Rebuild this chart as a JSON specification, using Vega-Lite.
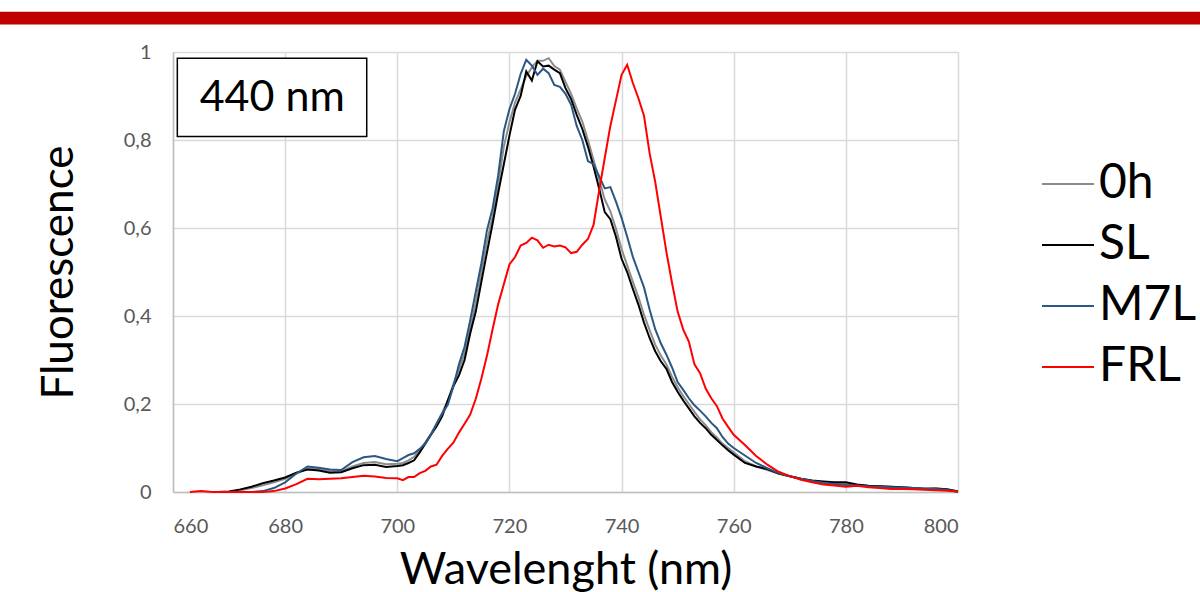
{
  "$schema": "https://vega.github.io/schema/vega-lite/v6.json",
  "width": 785,
  "height": 440,
  "autosize": "none",
  "padding": {"left": 173, "top": 52, "right": 242, "bottom": 100},
  "background": "white",
  "config": {
    "font": "Lato",
    "view": {"stroke": null},
    "axis": {
      "gridColor": "#d9d9d9", "gridWidth": 1.5,
      "domainColor": "#bfbfbf", "domainWidth": 1.5,
      "ticks": false,
      "labelColor": "#595959", "labelFontSize": 20, "labelFont": "Lato",
      "titleFont": "Lato", "titleColor": "#000000", "titleFontWeight": "normal"
    },
    "axisX": {"labelPadding": 24, "titleY": 91, "titleBaseline": "alphabetic", "tickCount": 7, "titleFontSize": 45},
    "axisY": {"labelPadding": 22, "titleX": -101, "titleBaseline": "alphabetic", "tickCount": 5, "titleFontSize": 44,
      "labelExpr": "replace(format(datum.value, '~g'), '.', ',')"},
    "legend": {
      "orient": "none", "legendX": 868, "legendY": 105,
      "symbolType": "stroke", "symbolSize": 2704, "symbolStrokeWidth": 2,
      "labelFontSize": 48, "labelFont": "Lato", "labelColor": "#000000",
      "rowPadding": 10, "padding": 0, "labelOffset": 4
    }
  },
  "datasets": {
    "spec": [
      {"w":663,"0h":null,"SL":null,"M7L":null,"FRL":0},
      {"w":665,"0h":null,"SL":null,"M7L":null,"FRL":0.002},
      {"w":667,"0h":null,"SL":null,"M7L":null,"FRL":0},
      {"w":668,"0h":null,"SL":0,"M7L":null,"FRL":0},
      {"w":670,"0h":0,"SL":0.001,"M7L":null,"FRL":0},
      {"w":672,"0h":0.004,"SL":0.006,"M7L":null,"FRL":0},
      {"w":674,"0h":0.009,"SL":0.012,"M7L":0,"FRL":0},
      {"w":676,"0h":0.015,"SL":0.02,"M7L":0.002,"FRL":0},
      {"w":678,"0h":0.022,"SL":0.026,"M7L":0.009,"FRL":0.002},
      {"w":680,"0h":0.03,"SL":0.033,"M7L":0.022,"FRL":0.008},
      {"w":682,"0h":0.042,"SL":0.044,"M7L":0.042,"FRL":0.018},
      {"w":684,"0h":0.053,"SL":0.051,"M7L":0.058,"FRL":0.03},
      {"w":686,"0h":0.052,"SL":0.049,"M7L":0.055,"FRL":0.029},
      {"w":688,"0h":0.048,"SL":0.044,"M7L":0.051,"FRL":0.03},
      {"w":690,"0h":0.047,"SL":0.045,"M7L":0.05,"FRL":0.031},
      {"w":692,"0h":0.058,"SL":0.054,"M7L":0.068,"FRL":0.034},
      {"w":694,"0h":0.066,"SL":0.061,"M7L":0.079,"FRL":0.037},
      {"w":696,"0h":0.068,"SL":0.062,"M7L":0.082,"FRL":0.035},
      {"w":698,"0h":0.063,"SL":0.057,"M7L":0.075,"FRL":0.032},
      {"w":700,"0h":0.064,"SL":0.059,"M7L":0.07,"FRL":0.031},
      {"w":701,"0h":0.066,"SL":0.061,"M7L":0.077,"FRL":0.027},
      {"w":702,"0h":0.072,"SL":0.066,"M7L":0.084,"FRL":0.034},
      {"w":703,"0h":0.08,"SL":0.072,"M7L":0.088,"FRL":0.034},
      {"w":704,"0h":0.095,"SL":0.09,"M7L":0.098,"FRL":0.043},
      {"w":705,"0h":0.113,"SL":0.11,"M7L":0.11,"FRL":0.048},
      {"w":706,"0h":0.132,"SL":0.13,"M7L":0.13,"FRL":0.058},
      {"w":707,"0h":0.155,"SL":0.149,"M7L":0.155,"FRL":0.062},
      {"w":708,"0h":0.18,"SL":0.172,"M7L":0.178,"FRL":0.082},
      {"w":709,"0h":0.208,"SL":0.208,"M7L":0.198,"FRL":0.098},
      {"w":710,"0h":0.245,"SL":0.24,"M7L":0.24,"FRL":0.112},
      {"w":711,"0h":0.278,"SL":0.265,"M7L":0.29,"FRL":0.135},
      {"w":712,"0h":0.315,"SL":0.3,"M7L":0.33,"FRL":0.155},
      {"w":713,"0h":0.372,"SL":0.36,"M7L":0.39,"FRL":0.176},
      {"w":714,"0h":0.43,"SL":0.41,"M7L":0.455,"FRL":0.212},
      {"w":715,"0h":0.5,"SL":0.478,"M7L":0.52,"FRL":0.258},
      {"w":716,"0h":0.57,"SL":0.545,"M7L":0.595,"FRL":0.31},
      {"w":717,"0h":0.625,"SL":0.61,"M7L":0.645,"FRL":0.37},
      {"w":718,"0h":0.7,"SL":0.68,"M7L":0.72,"FRL":0.427},
      {"w":719,"0h":0.785,"SL":0.745,"M7L":0.82,"FRL":0.472},
      {"w":720,"0h":0.84,"SL":0.81,"M7L":0.87,"FRL":0.517},
      {"w":721,"0h":0.885,"SL":0.869,"M7L":0.905,"FRL":0.534},
      {"w":722,"0h":0.915,"SL":0.9,"M7L":0.95,"FRL":0.56},
      {"w":723,"0h":0.945,"SL":0.956,"M7L":0.982,"FRL":0.566},
      {"w":724,"0h":0.965,"SL":0.935,"M7L":0.969,"FRL":0.578},
      {"w":725,"0h":0.98,"SL":0.979,"M7L":0.948,"FRL":0.572},
      {"w":726,"0h":0.98,"SL":0.967,"M7L":0.962,"FRL":0.555},
      {"w":727,"0h":0.986,"SL":0.969,"M7L":0.952,"FRL":0.562},
      {"w":728,"0h":0.968,"SL":0.96,"M7L":0.925,"FRL":0.558},
      {"w":729,"0h":0.96,"SL":0.952,"M7L":0.921,"FRL":0.56},
      {"w":730,"0h":0.932,"SL":0.918,"M7L":0.905,"FRL":0.556},
      {"w":731,"0h":0.905,"SL":0.893,"M7L":0.88,"FRL":0.543},
      {"w":732,"0h":0.872,"SL":0.857,"M7L":0.832,"FRL":0.546},
      {"w":733,"0h":0.842,"SL":0.825,"M7L":0.8,"FRL":0.562},
      {"w":734,"0h":0.8,"SL":0.785,"M7L":0.752,"FRL":0.575},
      {"w":735,"0h":0.755,"SL":0.74,"M7L":0.745,"FRL":0.607},
      {"w":736,"0h":0.71,"SL":0.69,"M7L":0.718,"FRL":0.685},
      {"w":737,"0h":0.665,"SL":0.636,"M7L":0.69,"FRL":0.759},
      {"w":738,"0h":0.638,"SL":0.62,"M7L":0.693,"FRL":0.832},
      {"w":739,"0h":0.598,"SL":0.58,"M7L":0.66,"FRL":0.89},
      {"w":740,"0h":0.552,"SL":0.53,"M7L":0.623,"FRL":0.948},
      {"w":741,"0h":0.515,"SL":0.5,"M7L":0.58,"FRL":0.971},
      {"w":742,"0h":0.478,"SL":0.462,"M7L":0.535,"FRL":0.93},
      {"w":743,"0h":0.443,"SL":0.426,"M7L":0.5,"FRL":0.895},
      {"w":744,"0h":0.403,"SL":0.385,"M7L":0.465,"FRL":0.855},
      {"w":745,"0h":0.368,"SL":0.35,"M7L":0.415,"FRL":0.77},
      {"w":746,"0h":0.335,"SL":0.32,"M7L":0.37,"FRL":0.705},
      {"w":747,"0h":0.31,"SL":0.297,"M7L":0.338,"FRL":0.625},
      {"w":748,"0h":0.29,"SL":0.28,"M7L":0.312,"FRL":0.545},
      {"w":749,"0h":0.262,"SL":0.25,"M7L":0.283,"FRL":0.475},
      {"w":750,"0h":0.238,"SL":0.228,"M7L":0.25,"FRL":0.41},
      {"w":751,"0h":0.218,"SL":0.208,"M7L":0.232,"FRL":0.369},
      {"w":752,"0h":0.2,"SL":0.19,"M7L":0.213,"FRL":0.342},
      {"w":753,"0h":0.182,"SL":0.172,"M7L":0.197,"FRL":0.29},
      {"w":754,"0h":0.165,"SL":0.157,"M7L":0.185,"FRL":0.27},
      {"w":755,"0h":0.152,"SL":0.145,"M7L":0.172,"FRL":0.235},
      {"w":756,"0h":0.136,"SL":0.13,"M7L":0.157,"FRL":0.213},
      {"w":757,"0h":0.124,"SL":0.118,"M7L":0.145,"FRL":0.195},
      {"w":758,"0h":0.11,"SL":0.106,"M7L":0.125,"FRL":0.167},
      {"w":759,"0h":0.1,"SL":0.095,"M7L":0.11,"FRL":0.148},
      {"w":760,"0h":0.09,"SL":0.085,"M7L":0.1,"FRL":0.13},
      {"w":762,"0h":0.07,"SL":0.066,"M7L":0.083,"FRL":0.107},
      {"w":764,"0h":0.058,"SL":0.058,"M7L":0.066,"FRL":0.082},
      {"w":766,"0h":0.05,"SL":0.052,"M7L":0.054,"FRL":0.062},
      {"w":768,"0h":0.042,"SL":0.042,"M7L":0.043,"FRL":0.046},
      {"w":770,"0h":0.036,"SL":0.036,"M7L":0.036,"FRL":0.036},
      {"w":772,"0h":0.03,"SL":0.03,"M7L":0.03,"FRL":0.028},
      {"w":774,"0h":0.025,"SL":0.026,"M7L":0.025,"FRL":0.022},
      {"w":776,"0h":0.022,"SL":0.024,"M7L":0.021,"FRL":0.017},
      {"w":778,"0h":0.02,"SL":0.022,"M7L":0.018,"FRL":0.015},
      {"w":780,"0h":0.018,"SL":0.022,"M7L":0.016,"FRL":0.012},
      {"w":782,"0h":0.016,"SL":0.017,"M7L":0.015,"FRL":0.014},
      {"w":784,"0h":0.014,"SL":0.014,"M7L":0.013,"FRL":0.011},
      {"w":786,"0h":0.013,"SL":0.013,"M7L":0.012,"FRL":0.009},
      {"w":788,"0h":0.012,"SL":0.012,"M7L":0.011,"FRL":0.007},
      {"w":790,"0h":0.01,"SL":0.011,"M7L":0.01,"FRL":0.007},
      {"w":792,"0h":0.009,"SL":0.009,"M7L":0.009,"FRL":0.006},
      {"w":794,"0h":0.008,"SL":0.007,"M7L":0.008,"FRL":0.005},
      {"w":796,"0h":0.008,"SL":0.008,"M7L":0.007,"FRL":0.004},
      {"w":798,"0h":0.006,"SL":0.006,"M7L":0.005,"FRL":0.003},
      {"w":800,"0h":0.002,"SL":0.001,"M7L":0.0,"FRL":0.001}
    ],
    "bar": [{"w": 629, "w2": 844, "f": 1.0627, "f2": 1.0916}],
    "box": [{"w": 660.77, "w2": 694.55, "f": 0.808, "f2": 0.986}],
    "boxlabel": [{"w": 677.7, "f": 0.895, "label": "440 nm"}]
  },
  "encoding": {
    "x": {"field": "w", "type": "quantitative", "scale": {"domain": [660, 800], "nice": false}, "title": "Wavelenght (nm)"},
    "y": {"field": "f", "type": "quantitative", "scale": {"domain": [0, 1], "nice": false}, "title": "Fluorescence"}
  },
  "layer": [
    {
      "data": {"name": "bar"},
      "mark": {"type": "rect", "color": "#C00000"},
      "encoding": {"x2": {"field": "w2"}, "y2": {"field": "f2"}}
    },
    {
      "data": {"name": "spec"},
      "transform": [{"fold": ["0h", "SL", "M7L", "FRL"], "as": ["s", "f"]}, {"filter": "datum.s === '0h'"}],
      "mark": {"type": "line", "strokeWidth": 2},
      "encoding": {"color": {"field": "s", "type": "nominal", "title": null,
        "scale": {"domain": ["0h", "SL", "M7L", "FRL"], "range": ["#8C8C8C", "#000000", "#2A5783", "#FF0000"]}}}
    },
    {
      "data": {"name": "spec"},
      "transform": [{"fold": ["0h", "SL", "M7L", "FRL"], "as": ["s", "f"]}, {"filter": "datum.s === 'SL'"}],
      "mark": {"type": "line", "strokeWidth": 2},
      "encoding": {"color": {"field": "s", "type": "nominal", "title": null,
        "scale": {"domain": ["0h", "SL", "M7L", "FRL"], "range": ["#8C8C8C", "#000000", "#2A5783", "#FF0000"]}}}
    },
    {
      "data": {"name": "spec"},
      "transform": [{"fold": ["0h", "SL", "M7L", "FRL"], "as": ["s", "f"]}, {"filter": "datum.s === 'M7L'"}],
      "mark": {"type": "line", "strokeWidth": 2},
      "encoding": {"color": {"field": "s", "type": "nominal", "title": null,
        "scale": {"domain": ["0h", "SL", "M7L", "FRL"], "range": ["#8C8C8C", "#000000", "#2A5783", "#FF0000"]}}}
    },
    {
      "data": {"name": "spec"},
      "transform": [{"fold": ["0h", "SL", "M7L", "FRL"], "as": ["s", "f"]}, {"filter": "datum.s === 'FRL'"}],
      "mark": {"type": "line", "strokeWidth": 2},
      "encoding": {"color": {"field": "s", "type": "nominal", "title": null,
        "scale": {"domain": ["0h", "SL", "M7L", "FRL"], "range": ["#8C8C8C", "#000000", "#2A5783", "#FF0000"]}}}
    },
    {
      "data": {"name": "box"},
      "mark": {"type": "rect", "fill": "white", "stroke": "black", "strokeWidth": 1.5},
      "encoding": {"x2": {"field": "w2"}, "y2": {"field": "f2"}}
    },
    {
      "data": {"name": "boxlabel"},
      "mark": {"type": "text", "fontSize": 43, "font": "Lato", "align": "center", "baseline": "middle", "color": "black"},
      "encoding": {"text": {"field": "label"}}
    }
  ]
}
